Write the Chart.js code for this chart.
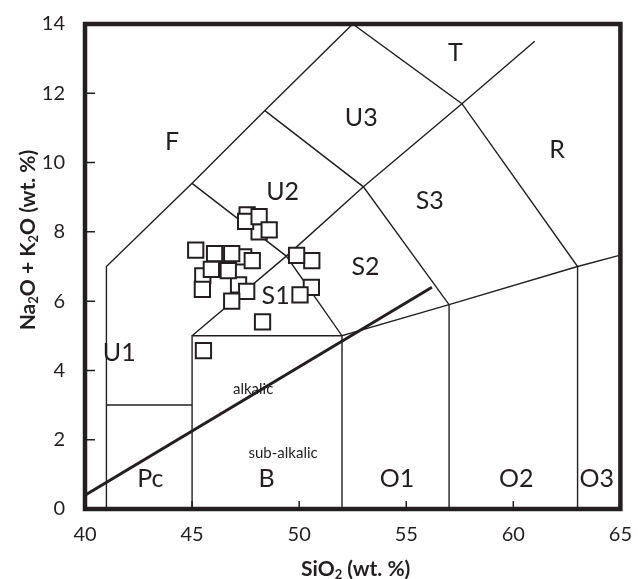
<!DOCTYPE html>
<html>
<head>
<meta charset="utf-8">
<script src="https://cdn.jsdelivr.net/npm/chart.js@4.4.1/dist/chart.umd.min.js"></script>
<style>
  html, body { margin: 0; padding: 0; background: #fff; }
</style>
</head>
<body>
<canvas id="tas" width="638" height="579"></canvas>
<script>
// sample compositions (wt. %)
const silica = [47.57, 48.13, 47.50, 48.13, 48.60,
  45.17, 47.41, 46.05, 46.85, 47.81,
  45.50, 47.17, 45.90, 46.69, 45.48, 47.55, 46.85, 48.29, 45.53,
  50.59, 49.88, 50.57, 50.04];
const alkali = [8.49, 8.00, 8.30, 8.44, 8.06,
  7.47, 7.28, 7.37, 7.37, 7.17,
  6.73, 6.47, 6.92, 6.88, 6.34, 6.28, 6.00, 5.40, 4.57,
  7.17, 7.32, 6.40, 6.18];

const xTicks = [40, 45, 50, 55, 60, 65];
const yTicks = [0, 2, 4, 6, 8, 10, 12, 14];

// TAS field boundaries (SiO2, Na2O+K2O)
const boundaries = [
  [[41, 0], [41, 7], [45, 9.4], [48.4, 11.5], [52.5, 14]],
  [[41, 3], [45, 3]],
  [[45, 0], [45, 5], [52, 5], [52, 0]],
  [[45, 5], [49.4, 7.3], [53, 9.3], [57.6, 11.7], [61, 13.5]],
  [[45, 9.4], [49.4, 7.3], [52, 5], [57, 5.9], [63, 7], [65, 7.33]],
  [[48.4, 11.5], [53, 9.3], [57, 5.9], [57, 0]],
  [[52.5, 14], [57.6, 11.7], [63, 7], [63, 0]]
];
// alkalic / sub-alkalic divide
const alkalineDivide = [[40, 0.4], [56.2, 6.4]];

const fieldNames = ['F', 'U1', 'U2', 'U3', 'S1', 'S2', 'S3', 'T', 'R',
  'Pc', 'B', 'O1', 'O2', 'O3'];
const fieldX = [44.07, 41.6, 49.23, 52.9, 48.9, 53.1, 56.1, 57.3, 62.04,
  43.05, 48.48, 54.57, 60.14, 63.9];
const fieldY = [10.6, 4.5, 9.14, 11.28, 6.14, 7.0, 8.9, 13.17, 10.36,
  0.88, 0.88, 0.88, 0.88, 0.88];

const seriesNames = ['alkalic', 'sub-alkalic'];
const seriesX = [47.85, 49.25];
const seriesY = [3.45, 1.6];

const INK = '#231f20';
const FONT = 'Lato, "Open Sans", sans-serif';

const toXY = pts => pts.map(p => ({ x: p[0], y: p[1] }));

const lineSets = boundaries.map(b => ({
  type: 'scatter', data: toXY(b), showLine: true, pointRadius: 0,
  borderColor: INK, borderWidth: 1.4, tension: 0
}));
lineSets.push({
  type: 'scatter', data: toXY(alkalineDivide), showLine: true, pointRadius: 0,
  borderColor: INK, borderWidth: 3, tension: 0
});

function drawRuns(ctx, runs, size) {
  // runs: [text, isSub]
  const big = 'bold ' + size + 'px ' + FONT;
  const small = 'bold ' + Math.round(size * 0.62) + 'px ' + FONT;
  let w = 0;
  runs.forEach(r => { ctx.font = r[1] ? small : big; w += ctx.measureText(r[0]).width; });
  let x = -w / 2;
  runs.forEach(r => {
    ctx.font = r[1] ? small : big;
    ctx.fillText(r[0], x, r[1] ? size * 0.28 : 0);
    x += ctx.measureText(r[0]).width;
  });
}

const decor = {
  id: 'decor',
  beforeDatasetsDraw(chart) {
    const { ctx, scales: { x, y } } = chart;
    ctx.save();
    ctx.fillStyle = INK;
    ctx.textAlign = 'center';
    ctx.textBaseline = 'middle';
    ctx.font = '25px ' + FONT;
    fieldNames.forEach((n, i) => {
      ctx.fillText(n, x.getPixelForValue(fieldX[i]), y.getPixelForValue(fieldY[i]));
    });
    ctx.font = '15px ' + FONT;
    seriesNames.forEach((n, i) => {
      ctx.fillText(n, x.getPixelForValue(seriesX[i]), y.getPixelForValue(seriesY[i]));
    });
    ctx.restore();
  },
  afterDraw(chart) {
    const { ctx, chartArea: a, scales: { x, y } } = chart;
    ctx.save();
    ctx.strokeStyle = INK;
    // inward ticks
    ctx.lineWidth = 1.5;
    ctx.beginPath();
    yTicks.slice(1, -1).forEach(v => {
      const py = y.getPixelForValue(v);
      ctx.moveTo(a.left, py); ctx.lineTo(a.left + 10, py);
    });
    xTicks.slice(1, -1).forEach(v => {
      const px = x.getPixelForValue(v);
      ctx.moveTo(px, a.bottom); ctx.lineTo(px, a.bottom - 8);
    });
    ctx.stroke();
    // frame
    ctx.lineWidth = 4.5;
    ctx.strokeRect(a.left, a.top, a.right - a.left, a.bottom - a.top);
    // axis titles
    ctx.fillStyle = INK;
    ctx.textAlign = 'left';
    ctx.textBaseline = 'middle';
    ctx.save();
    ctx.translate((a.left + a.right) / 2 + 3, 569);
    drawRuns(ctx, [['SiO', 0], ['2', 1], [' (wt. %)', 0]], 21);
    ctx.restore();
    ctx.save();
    ctx.translate(28, 240);
    ctx.rotate(-Math.PI / 2);
    drawRuns(ctx, [['Na', 0], ['2', 1], ['O + K', 0], ['2', 1], ['O (wt. %)', 0]], 21);
    ctx.restore();
    ctx.restore();
  }
};

new Chart(document.getElementById('tas'), {
  type: 'scatter',
  data: {
    datasets: [{
      data: silica.map((s, i) => ({ x: s, y: alkali[i] })),
      pointStyle: 'rect',
      pointRadius: 10.8,
      pointHoverRadius: 10.8,
      backgroundColor: '#ffffff',
      borderColor: INK,
      borderWidth: 2
    }].concat(lineSets)
  },
  options: {
    responsive: false,
    animation: false,
    events: [],
    layout: { padding: { top: 20.5, right: 14, left: 0, bottom: 0 } },
    plugins: { legend: { display: false }, tooltip: { enabled: false } },
    scales: {
      x: {
        type: 'linear', min: 40, max: 65,
        afterBuildTicks: s => { s.ticks = xTicks.map(v => ({ value: v })); },
        afterFit: s => { s.height = 70; },
        grid: { display: false }, border: { display: false },
        ticks: { color: INK, font: { family: FONT, size: 20 }, padding: 6 }
      },
      y: {
        type: 'linear', min: 0, max: 14,
        afterBuildTicks: s => { s.ticks = yTicks.map(v => ({ value: v })); },
        afterFit: s => { s.width = 85; },
        grid: { display: false }, border: { display: false },
        ticks: { color: INK, font: { family: FONT, size: 20 }, padding: 12 }
      }
    }
  },
  plugins: [decor]
});
</script>
</body>
</html>
